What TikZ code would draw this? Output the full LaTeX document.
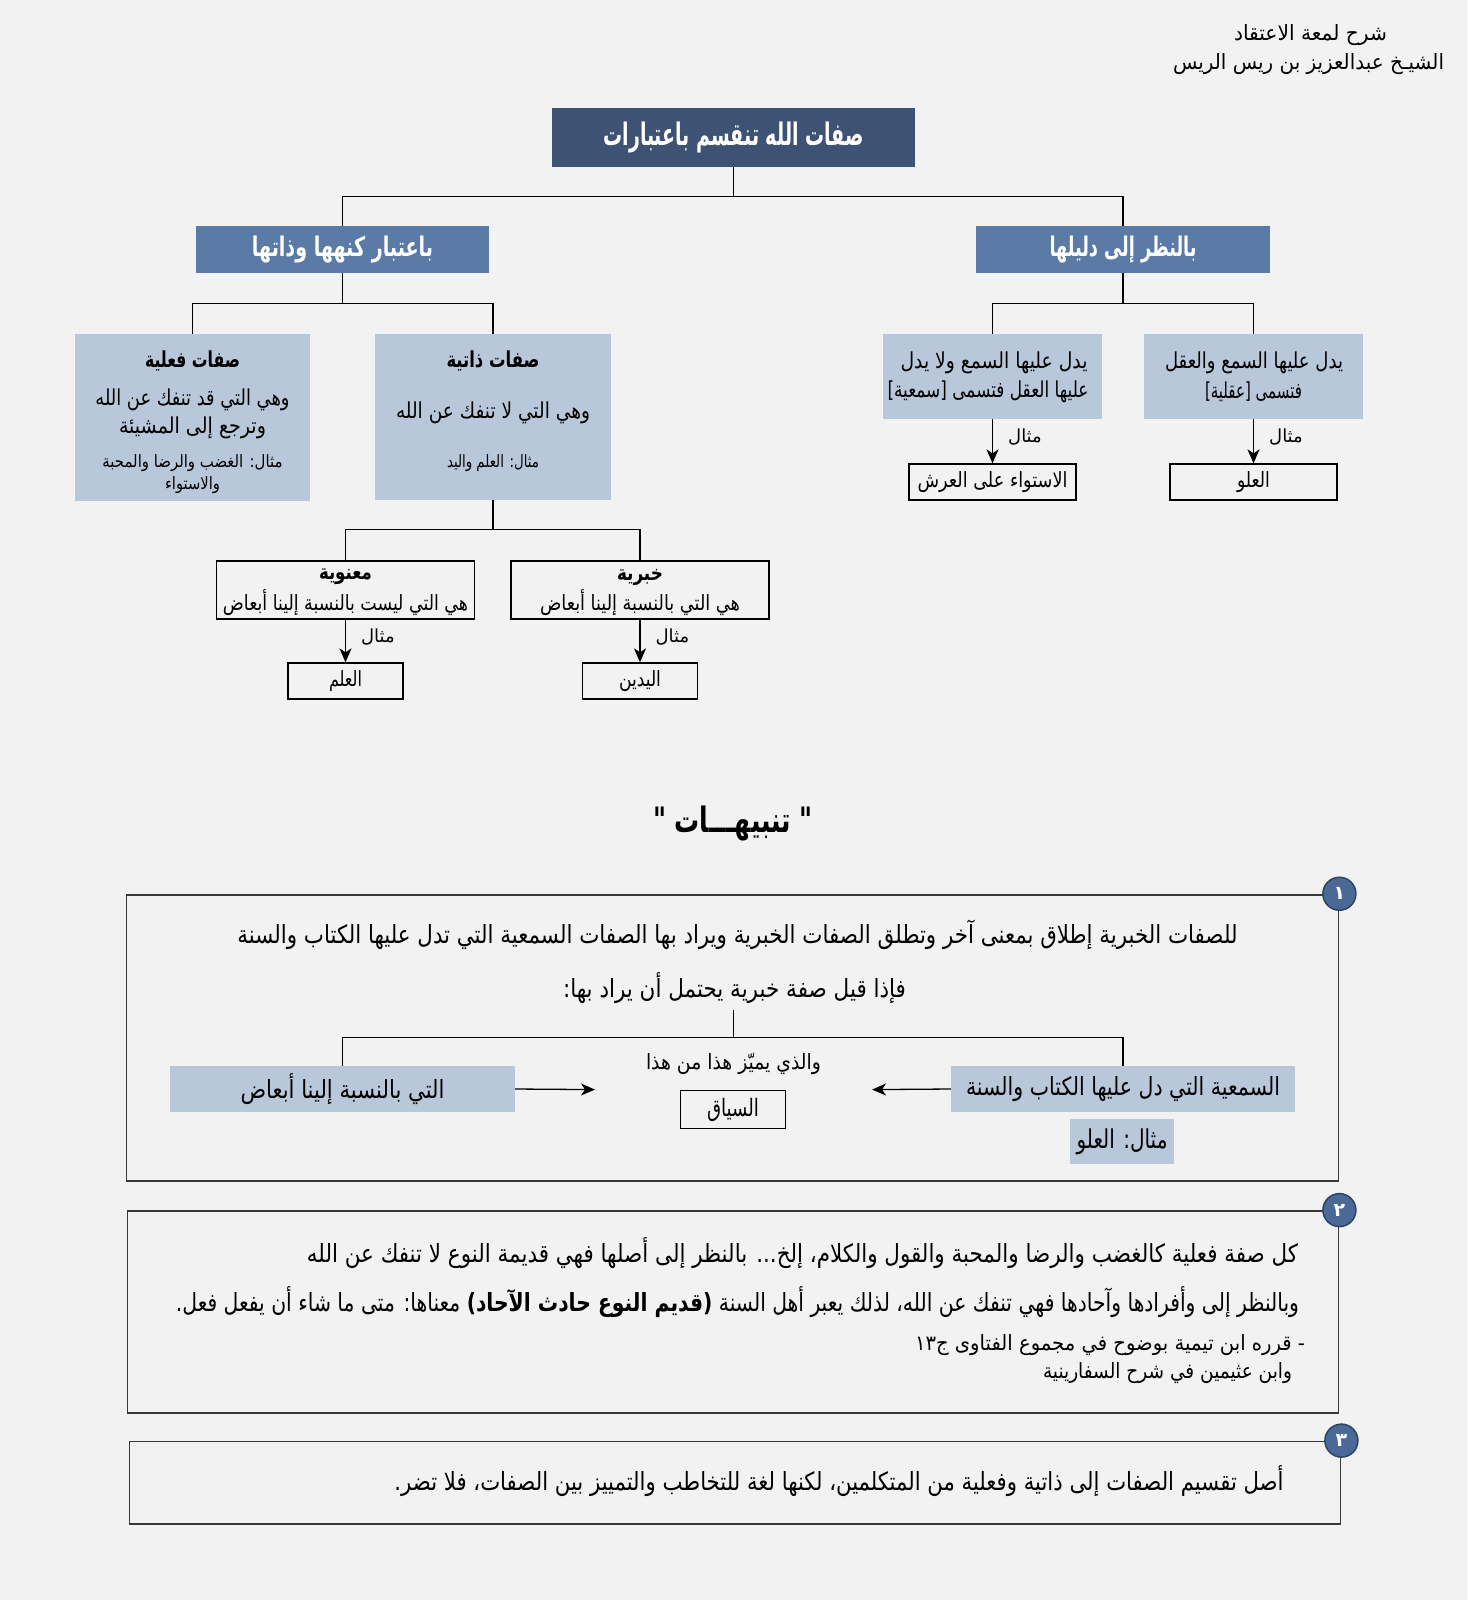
\documentclass[tikz,border=0pt]{standalone}
\usepackage{fontspec}
\usepackage{graphicx}
\usetikzlibrary{arrows.meta}
\newfontfamily\arf[Script=Arabic]{DejaVu Sans}
\TeXXeTstate=1
\newcommand\RL[1]{\beginR #1\endR}
\newcommand\FW[2]{\resizebox{#1pt}{\height}{\beginR #2\endR}}
\definecolor{bg}{HTML}{F2F2F2}
\definecolor{navy}{HTML}{3E5374}
\definecolor{steel}{HTML}{5A7BA6}
\definecolor{pale}{HTML}{B8C7DA}
\definecolor{circfill}{HTML}{4A6996}
\definecolor{circline}{HTML}{2D4466}
\definecolor{framec}{HTML}{383838}
\tikzset{
  fs/.style={font={\arf\fontsize{#1}{#1}\selectfont}},
  fsb/.style={font={\arf\bfseries\fontsize{#1}{#1}\selectfont}},
  txt/.style={inner sep=0pt, outer sep=0pt},
  conn/.style={draw=black, line width=1.3pt},
  arr/.style={conn, -{Stealth[length=14pt,width=12pt,inset=4pt]}},
  topbox/.style={fill=navy, inner sep=0pt, text=white, fsb=31},
  lbox/.style={fill=steel, inner sep=0pt, text=white, fsb=27},
  pbox/.style={fill=pale, inner sep=0pt},
  wbox/.style={fill=bg, draw=black, line width=1.3pt, inner sep=0pt},
  nbox/.style={draw=framec, line width=1.8pt, inner sep=0pt},
  numc/.style={circle, minimum size=33pt, inner sep=0pt, fill=circfill, draw=circline, line width=1.5pt, text=white, fsb=19},
  lab/.style={fs=18, inner sep=0pt}
}
\begin{document}
\begin{tikzpicture}[x=1pt,y=-1pt]
\fill[bg] (0,0) rectangle (1467,1600);
\useasboundingbox (0,0) rectangle (1467,1600);

% header
\node[txt, fs=21, anchor=east] (h1) at (1387,35) {\FW{153}{شرح لمعة الاعتقاد}};
\node[txt, fs=21, anchor=east] (h2) at (1444,64) {\FW{271}{الشيـخ عبدالعزيز بن ريس الريس}};

% top
\node[topbox, minimum width=363pt, minimum height=59pt] (top) at (733.5,137.5) {\FW{260}{صفات الله تنقسم باعتبارات}};
\node[lbox, minimum width=293pt, minimum height=47pt] (k) at (342.5,249.5) {\FW{181}{باعتبار كنهها وذاتها}};
\node[lbox, minimum width=294pt, minimum height=47pt] (d) at (1123,249.5) {\FW{147}{بالنظر إلى دليلها}};
\draw[conn] (top.south) -- ++(0,29.5) -| (k.north);
\draw[conn] (top.south) -- ++(0,29.5) -| (d.north);

% level 2 left
\node[pbox, minimum width=235pt, minimum height=167pt] (fi) at (192.5,417.5) {};
\node[pbox, minimum width=236pt, minimum height=166pt] (dh) at (493,417) {};
\draw[conn] (k.south) -- ++(0,30) -| (fi.north);
\draw[conn] (k.south) -- ++(0,30) -| (dh.north);

\node[txt, fsb=22] (fi1) at (192.5,361) {\FW{95}{صفات فعلية}};
\node[txt, fs=22] (fi2) at (192.5,400) {\FW{194}{وهي التي قد تنفك عن الله}};
\node[txt, fs=22] (fi3) at (192.5,428) {\FW{147}{وترجع إلى المشيئة}};
\node[txt, fs=17] (fi4) at (192.5,463) {\FW{180}{مثال: الغضب والرضا والمحبة}};
\node[txt, fs=17] (fi5) at (192.5,485) {\FW{55}{والاستواء}};

\node[txt, fsb=22] (dh1) at (493,361) {\FW{93}{صفات ذاتية}};
\node[txt, fs=22] (dh2) at (493,413) {\FW{194}{وهي التي لا تنفك عن الله}};
\node[txt, fs=17] (dh3) at (493,463) {\FW{92}{مثال: العلم واليد}};

% level 2 right
\node[pbox, minimum width=219pt, minimum height=85pt] (sm) at (992.5,376.5) {};
\node[pbox, minimum width=219pt, minimum height=85pt] (aq) at (1253.5,376.5) {};
\draw[conn] (d.south) -- ++(0,30) -| (sm.north);
\draw[conn] (d.south) -- ++(0,30) -| (aq.north);
\node[txt, fs=22] (sm1) at (994,363) {\FW{187}{يدل عليها السمع ولا يدل}};
\node[txt, fs=22] (sm2) at (988,392) {\FW{201}{عليها العقل فتسمى [سمعية]}};
\node[txt, fs=22] (aq1) at (1254,363) {\FW{178}{يدل عليها السمع والعقل}};
\node[txt, fs=22] (aq2) at (1253.5,392) {\FW{97}{فتسمى [عقلية]}};

\node[wbox, minimum width=167pt, minimum height=36pt, fs=21] (smx) at (992.5,482) {\FW{150}{الاستواء على العرش}};
\node[wbox, minimum width=167pt, minimum height=36pt, fs=21] (aqx) at (1253.5,482) {\FW{33}{العلو}};
\draw[arr] (sm) -- (smx) node[pos=0.4, right=15pt, lab] (sml) {\RL{مثال}};
\draw[arr] (aq) -- (aqx) node[pos=0.4, right=15pt, lab] (aql) {\RL{مثال}};

% level 3
\node[wbox, minimum width=258pt, minimum height=58pt] (mn) at (345.5,590) {};
\node[wbox, minimum width=258pt, minimum height=58pt] (kh) at (640,590) {};
\draw[conn] (dh.south) -- ++(0,29) -| (mn.north);
\draw[conn] (dh.south) -- ++(0,29) -| (kh.north);
\node[txt, fsb=21] (mn1) at (345.5,577) {\FW{53}{معنوية}};
\node[txt, fs=21] (mn2) at (345.5,603) {\FW{245}{هي التي ليست بالنسبة إلينا أبعاض}};
\node[txt, fsb=21] (kh1) at (640,577) {\FW{46}{خبرية}};
\node[txt, fs=21] (kh2) at (640,603) {\FW{200}{هي التي بالنسبة إلينا أبعاض}};
\node[wbox, minimum width=115pt, minimum height=36pt, fs=21] (mnx) at (345.5,681) {\FW{33}{العلم}};
\node[wbox, minimum width=115pt, minimum height=36pt, fs=21] (khx) at (640,681) {\FW{42}{اليدين}};
\draw[arr] (mn) -- (mnx) node[pos=0.4, right=15pt, lab] (mnl) {\RL{مثال}};
\draw[arr] (kh) -- (khx) node[pos=0.4, right=15pt, lab] (khl) {\RL{مثال}};

% title
\node[txt, fsb=35] (tn) at (733,823) {\FW{160}{" تنبيهـــات "}};

% note 1
\node[nbox, minimum width=1212pt, minimum height=286.7pt] (n1) at (732.5,1038) {};
\node[numc] (c1) at (n1.north east) {\RL{١}};
\node[txt, fs=25] (n1a) at (737.5,935) {\FW{1000}{للصفات الخبرية إطلاق بمعنى آخر وتطلق الصفات الخبرية ويراد بها الصفات السمعية التي تدل عليها الكتاب والسنة}};
\node[txt, fs=25] (n1b) at (734.5,988) {\FW{343}{فإذا قيل صفة خبرية يحتمل أن يراد بها:}};
\coordinate (n1j) at (733.5,1010);
\node[pbox, minimum width=345pt, minimum height=46pt, fs=25] (n1L) at (342.5,1089) {\FW{204}{التي بالنسبة إلينا أبعاض}};
\node[pbox, minimum width=344pt, minimum height=46pt, fs=25] (n1R) at (1123,1089) {\FW{314}{السمعية التي دل عليها الكتاب والسنة}};
\draw[conn] (n1j) -- ++(0,27.5) -| (n1L.north);
\draw[conn] (n1j) -- ++(0,27.5) -| (n1R.north);
\node[pbox, minimum width=104pt, minimum height=45pt, fs=26] (n1x) at (1122,1141.5) {\FW{91}{مثال: العلو}};
\node[txt, fs=21] (n1m) at (733.5,1064) {\FW{175}{والذي يميّز هذا من هذا}};
\node[wbox, minimum width=105pt, minimum height=38pt, fs=24] (n1s) at (733,1109.5) {\FW{52}{السياق}};
\coordinate (a1) at (595,1089.6);
\coordinate (a2) at (872,1089.6);
\draw[arr] (n1L.east) -- (a1);
\draw[arr] (n1R.west) -- (a2);

% note 2
\node[nbox, minimum width=1211pt, minimum height=202pt] (n2) at (733,1312) {};
\node[numc] (c2) at (n2.north east) {\RL{٢}};
\node[txt, fs=25, anchor=east] (n2a) at (1298,1253) {\FW{991}{كل صفة فعلية كالغضب والرضا والمحبة والقول والكلام، إلخ... بالنظر إلى أصلها فهي قديمة النوع لا تنفك عن الله}};
\node[txt, fs=25, anchor=east] (n2b) at (1299,1302) {\FW{1123}{وبالنظر إلى وأفرادها وآحادها فهي تنفك عن الله، لذلك يعبر أهل السنة {\bfseries (قديم النوع حادث الآحاد)} معناها: متى ما شاء أن يفعل فعل.}};
\node[txt, fs=21, anchor=east] (n2c) at (1305,1345) {\FW{390}{- قرره ابن تيمية بوضوح في مجموع الفتاوى ج١٣}};
\node[txt, fs=21, anchor=east] (n2d) at (1292,1373) {\FW{249}{وابن عثيمين في شرح السفارينية}};

% note 3
\node[nbox, minimum width=1211pt, minimum height=82.5pt] (n3) at (735,1482.75) {};
\node[numc] (c3) at (n3.north east) {\RL{٣}};
\node[txt, fs=25, anchor=east] (n3a) at (1283.5,1481) {\FW{889}{أصل تقسيم الصفات إلى ذاتية وفعلية من المتكلمين، لكنها لغة للتخاطب والتمييز بين الصفات، فلا تضر.}};
\end{tikzpicture}
\end{document}
